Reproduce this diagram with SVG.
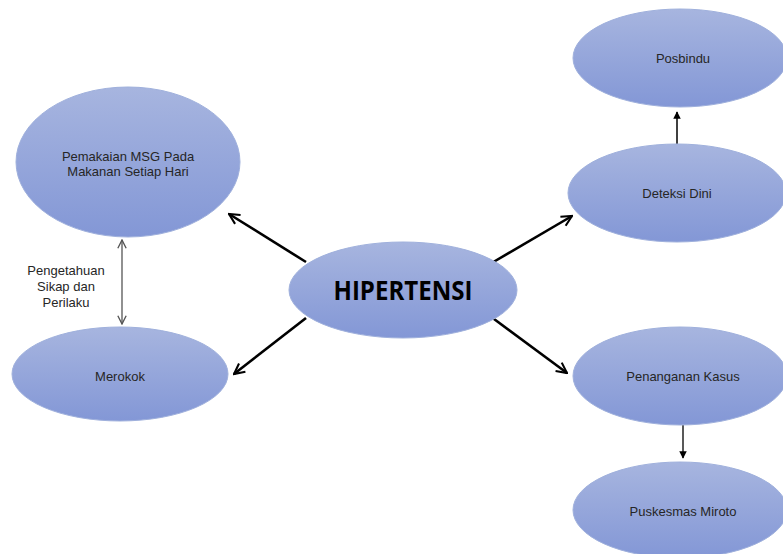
<svg xmlns="http://www.w3.org/2000/svg" width="783" height="554" viewBox="0 0 783 554">
<defs>
<linearGradient id="g" x1="0" y1="0" x2="0" y2="1">
<stop offset="0" stop-color="#a7b5df"/>
<stop offset="1" stop-color="#8397d6"/>
</linearGradient>
<marker id="open" viewBox="0 0 10 10" refX="9" refY="5" markerWidth="5" markerHeight="5" orient="auto" markerUnits="strokeWidth">
<path d="M1,1 L9,5 L1,9" fill="none" stroke="#000" stroke-width="1.6"/>
</marker>
<marker id="thin" viewBox="0 0 10 10" refX="9" refY="5" markerWidth="8" markerHeight="8" orient="auto-start-reverse" markerUnits="strokeWidth">
<path d="M1,1 L9,5 L1,9" fill="none" stroke="#555" stroke-width="1.3"/>
</marker>
<marker id="tri" viewBox="0 0 10 10" refX="9" refY="5" markerWidth="5" markerHeight="5" orient="auto" markerUnits="strokeWidth">
<path d="M0,0 L10,5 L0,10 Z" fill="#000"/>
</marker>
</defs>
<style>
.node ellipse{fill:url(#g);stroke:#9fb0dc;stroke-width:1}
.lbl{font-family:"Liberation Sans",Arial,sans-serif;font-size:13px;fill:#262626;text-anchor:middle}
.big{font-family:"Open Sans","Liberation Sans",sans-serif;font-size:27px;font-weight:bold;fill:#000;text-anchor:middle}
.thick{stroke:#000;stroke-width:2.6;fill:none;marker-end:url(#open)}
</style>
<g id="connectors">
<line class="thick" x1="306" y1="262" x2="229" y2="214"/>
<line class="thick" x1="306" y1="318" x2="234" y2="374"/>
<line class="thick" x1="490" y1="264" x2="572" y2="216"/>
<line class="thick" x1="490" y1="316" x2="567" y2="373"/>
<line x1="677" y1="144" x2="677" y2="112" stroke="#000" stroke-width="1.5" marker-end="url(#tri)"/>
<line x1="683" y1="425" x2="683" y2="458" stroke="#222" stroke-width="1.5" marker-end="url(#tri)"/>
<line x1="122" y1="240" x2="122" y2="324" stroke="#555" stroke-width="1.3" marker-start="url(#thin)" marker-end="url(#thin)"/>
<text class="lbl"><tspan x="66" y="275">Pengetahuan</tspan><tspan x="66" y="291">Sikap dan</tspan><tspan x="66" y="307">Perilaku</tspan></text>
</g>
<g id="n-msg" class="node">
<ellipse cx="128" cy="162" rx="112" ry="75"/>
<text class="lbl"><tspan x="128" y="161">Pemakaian MSG Pada</tspan><tspan x="128" y="176">Makanan Setiap Hari</tspan></text>
</g>
<g id="n-merokok" class="node">
<ellipse cx="120" cy="374" rx="108" ry="47"/>
<text class="lbl" x="120" y="381">Merokok</text>
</g>
<g id="n-hipertensi" class="node">
<ellipse cx="403" cy="290" rx="114" ry="48"/>
<text class="big" x="403" y="300" textLength="139" lengthAdjust="spacingAndGlyphs">HIPERTENSI</text>
</g>
<g id="n-posbindu" class="node">
<ellipse cx="680" cy="58" rx="107" ry="49"/>
<text class="lbl" x="683" y="63">Posbindu</text>
</g>
<g id="n-deteksi" class="node">
<ellipse cx="677" cy="193" rx="109" ry="49"/>
<text class="lbl" x="677" y="198">Deteksi Dini</text>
</g>
<g id="n-penanganan" class="node">
<ellipse cx="680" cy="376" rx="107" ry="49"/>
<text class="lbl" x="683" y="381">Penanganan Kasus</text>
</g>
<g id="n-puskesmas" class="node">
<ellipse cx="680" cy="510" rx="107" ry="48"/>
<text class="lbl" x="683" y="516">Puskesmas Miroto</text>
</g>
</svg>
